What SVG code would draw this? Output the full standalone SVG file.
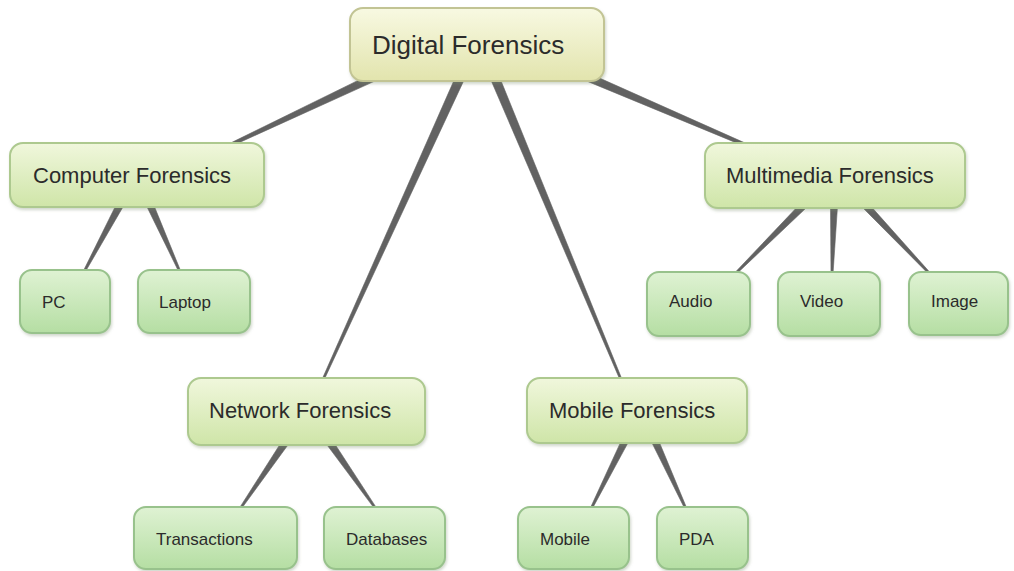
<svg xmlns="http://www.w3.org/2000/svg" width="1014" height="571" viewBox="0 0 1014 571">
  <defs>
    <linearGradient id="gRoot" x1="0" y1="0" x2="0" y2="1">
      <stop offset="0" stop-color="#f8f9e2"/>
      <stop offset="1" stop-color="#e2e4ad"/>
    </linearGradient>
    <linearGradient id="gMid" x1="0" y1="0" x2="0" y2="1">
      <stop offset="0" stop-color="#f0f7dc"/>
      <stop offset="1" stop-color="#cfe5a8"/>
    </linearGradient>
    <linearGradient id="gLeaf" x1="0" y1="0" x2="0" y2="1">
      <stop offset="0" stop-color="#dff2d3"/>
      <stop offset="1" stop-color="#b5dea3"/>
    </linearGradient>
    <filter id="soft" x="-10%" y="-10%" width="125%" height="130%">
      <feDropShadow dx="1" dy="2" stdDeviation="1.5" flood-color="#7a8a6a" flood-opacity="0.35"/>
    </filter>
  </defs>
  <style>
    .root { fill: url(#gRoot); stroke: #c2c494; stroke-width: 2; filter: url(#soft); }
    .mid { fill: url(#gMid); stroke: #adc98f; stroke-width: 2; filter: url(#soft); }
    .leaf { fill: url(#gLeaf); stroke: #98c28c; stroke-width: 2; filter: url(#soft); }
    .link { fill: #626262; stroke: #626262; stroke-width: 0.6; stroke-linejoin: round; }
    text { font-family: "Liberation Sans", Arial, sans-serif; fill: #2b2b2b; }
    .t1 { font-size: 26px; }
    .t2 { font-size: 22px; }
    .t3 { font-size: 17px; }
  </style>
  <rect width="1014" height="571" fill="#ffffff"/>

  <!-- tapered links, wide at the parent end -->
  <g id="connectors">
    <polygon class="link" points="370.3,74.4 227.4,144.6 228.6,147.4 373.7,81.6"/>
    <polygon class="link" points="455.9,76.1 321.1,381.6 322.9,382.4 464.1,79.9"/>
    <polygon class="link" points="490.8,79.7 621.1,382.4 622.9,381.6 499.2,76.3"/>
    <polygon class="link" points="583.4,79.7 747.4,147.4 748.6,144.6 586.6,72.3"/>
    <polygon class="link" points="116.9,203.3 83.1,271.5 84.9,272.5 123.1,206.7"/>
    <polygon class="link" points="146.8,206.4 179.1,272.4 180.9,271.6 153.2,203.6"/>
    <polygon class="link" points="800.5,203.5 734.3,273.3 735.7,274.7 805.5,208.5"/>
    <polygon class="link" points="830.5,206 831,274 833,274 837.5,206"/>
    <polygon class="link" points="863.5,208.4 929.3,274.7 930.7,273.3 868.5,203.6"/>
    <polygon class="link" points="282.1,441.0 239.2,508.4 240.8,509.6 287.9,445.0"/>
    <polygon class="link" points="327.1,445.0 375.2,509.6 376.8,508.4 332.9,441.0"/>
    <polygon class="link" points="621.9,439.4 590.1,508.6 591.9,509.4 628.1,442.6"/>
    <polygon class="link" points="651.8,442.5 685.1,509.4 686.9,508.6 658.2,439.5"/>
  </g>

  <g id="digital-forensics">
    <rect class="root" x="350" y="8" width="254" height="73" rx="13"/>
    <text class="t1" x="372" y="54">Digital Forensics</text>
  </g>

  <g id="computer-forensics">
    <rect class="mid" x="10" y="143" width="254" height="64" rx="13"/>
    <text class="t2" x="33" y="183">Computer Forensics</text>
  </g>
  <g id="multimedia-forensics">
    <rect class="mid" x="705" y="143" width="260" height="65" rx="13"/>
    <text class="t2" x="726" y="183">Multimedia Forensics</text>
  </g>
  <g id="network-forensics">
    <rect class="mid" x="188" y="378" width="237" height="67" rx="13"/>
    <text class="t2" x="209" y="418">Network Forensics</text>
  </g>
  <g id="mobile-forensics">
    <rect class="mid" x="527" y="378" width="220" height="65" rx="13"/>
    <text class="t2" x="549" y="418">Mobile Forensics</text>
  </g>

  <g id="pc">
    <rect class="leaf" x="20" y="270" width="90" height="63" rx="12"/>
    <text class="t3" x="42" y="308">PC</text>
  </g>
  <g id="laptop">
    <rect class="leaf" x="138" y="270" width="112" height="63" rx="12"/>
    <text class="t3" x="159" y="308">Laptop</text>
  </g>
  <g id="audio">
    <rect class="leaf" x="647" y="272" width="103" height="64" rx="12"/>
    <text class="t3" x="669" y="307">Audio</text>
  </g>
  <g id="video">
    <rect class="leaf" x="778" y="272" width="102" height="64" rx="12"/>
    <text class="t3" x="800" y="307">Video</text>
  </g>
  <g id="image">
    <rect class="leaf" x="909" y="272" width="99" height="63" rx="12"/>
    <text class="t3" x="931" y="307">Image</text>
  </g>
  <g id="transactions">
    <rect class="leaf" x="134" y="507" width="163" height="62" rx="12"/>
    <text class="t3" x="156" y="545">Transactions</text>
  </g>
  <g id="databases">
    <rect class="leaf" x="324" y="507" width="121" height="62" rx="12"/>
    <text class="t3" x="346" y="545">Databases</text>
  </g>
  <g id="mobile">
    <rect class="leaf" x="518" y="507" width="111" height="62" rx="12"/>
    <text class="t3" x="540" y="545">Mobile</text>
  </g>
  <g id="pda">
    <rect class="leaf" x="657" y="507" width="91" height="62" rx="12"/>
    <text class="t3" x="679" y="545">PDA</text>
  </g>
</svg>
